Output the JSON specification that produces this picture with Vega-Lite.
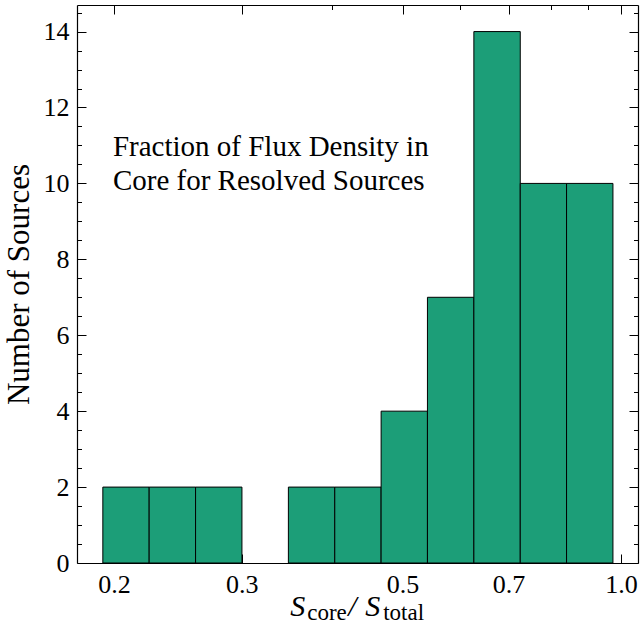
{
  "$schema": "https://vega.github.io/schema/vega-lite/v6.json",
  "width": 561,
  "height": 558,
  "autosize": {"type": "none"},
  "padding": {"left": 77, "top": 5, "right": 3, "bottom": 70},
  "background": "white",
  "config": {
    "view": {"stroke": null},
    "font": "Liberation Serif",
    "axis": {
      "labelFont": "Liberation Serif",
      "labelFontSize": 26,
      "labelColor": "black",
      "titleFont": "Liberation Serif",
      "titleFontSize": 31,
      "titleFontWeight": "normal",
      "titleColor": "black",
      "tickColor": "black",
      "domainColor": "black",
      "domainWidth": 1.2,
      "tickWidth": 1,
      "grid": false
    }
  },
  "datasets": {
    "bins": [
      {"lo": 0.1931, "hi": 0.2237, "count": 2},
      {"lo": 0.2237, "hi": 0.2592, "count": 2},
      {"lo": 0.2592, "hi": 0.3003, "count": 2},
      {"lo": 0.3480, "hi": 0.4032, "count": 2},
      {"lo": 0.4032, "hi": 0.4671, "count": 2},
      {"lo": 0.4671, "hi": 0.5411, "count": 4},
      {"lo": 0.5411, "hi": 0.6270, "count": 7},
      {"lo": 0.6270, "hi": 0.7265, "count": 14},
      {"lo": 0.7265, "hi": 0.8415, "count": 10},
      {"lo": 0.8415, "hi": 0.9750, "count": 10}
    ],
    "one": [{"label": "annotation"}]
  },
  "data": {"name": "bins"},
  "resolve": {"axis": {"x": "independent", "y": "independent"}},
  "layer": [
    {
      "mark": {"type": "rect", "fill": "#1c9e78", "stroke": "black", "strokeWidth": 1},
      "encoding": {
        "x": {"field": "lo", "type": "quantitative",
              "scale": {"type": "log", "domain": [0.1779, 1.0557], "nice": false, "zero": false},
              "axis": {"orient": "bottom", "values": [0.2, 0.3, 0.5, 0.7, 1.0], "format": ".1f", "tickSize": -9, "labelPadding": 17, "title": null}},
        "x2": {"field": "hi"},
        "y": {"field": "count", "type": "quantitative",
              "scale": {"domain": [0, 14.7], "nice": false, "zero": true},
              "axis": {"orient": "left", "values": [0, 2, 4, 6, 8, 10, 12, 14], "tickSize": -9, "labelPadding": 17, "title": "Number of Sources", "titlePadding": 8}},
        "y2": {"datum": 0}
      }
    },
    {
      "mark": {"type": "rect", "opacity": 0},
      "encoding": {
        "x": {"field": "lo", "type": "quantitative",
              "scale": {"type": "log", "domain": [0.1779, 1.0557], "nice": false, "zero": false},
              "axis": {"orient": "bottom", "values": [0.4, 0.6, 0.8, 0.9], "labels": false, "domain": false, "tickSize": -4.5, "title": null}},
        "x2": {"field": "hi"},
        "y": {"field": "count", "type": "quantitative",
              "scale": {"domain": [0, 14.7], "nice": false, "zero": true},
              "axis": {"orient": "left", "values": [0.5, 1, 1.5, 2.5, 3, 3.5, 4.5, 5, 5.5, 6.5, 7, 7.5, 8.5, 9, 9.5, 10.5, 11, 11.5, 12.5, 13, 13.5, 14.5], "labels": false, "domain": false, "tickSize": -4.5, "title": null}},
        "y2": {"datum": 0}
      }
    },
    {
      "mark": {"type": "rect", "opacity": 0},
      "encoding": {
        "x": {"field": "lo", "type": "quantitative",
              "scale": {"type": "log", "domain": [0.1779, 1.0557], "nice": false, "zero": false},
              "axis": {"orient": "top", "values": [0.2, 0.3, 0.5, 0.7, 1.0], "labels": false, "tickSize": -9, "title": null}},
        "x2": {"field": "hi"},
        "y": {"field": "count", "type": "quantitative",
              "scale": {"domain": [0, 14.7], "nice": false, "zero": true},
              "axis": {"orient": "right", "values": [0, 2, 4, 6, 8, 10, 12, 14], "labels": false, "tickSize": -9, "title": null}},
        "y2": {"datum": 0}
      }
    },
    {
      "mark": {"type": "rect", "opacity": 0},
      "encoding": {
        "x": {"field": "lo", "type": "quantitative",
              "scale": {"type": "log", "domain": [0.1779, 1.0557], "nice": false, "zero": false},
              "axis": {"orient": "top", "values": [0.4, 0.6, 0.8, 0.9], "labels": false, "domain": false, "tickSize": -4.5, "title": null}},
        "x2": {"field": "hi"},
        "y": {"field": "count", "type": "quantitative",
              "scale": {"domain": [0, 14.7], "nice": false, "zero": true},
              "axis": {"orient": "right", "values": [0.5, 1, 1.5, 2.5, 3, 3.5, 4.5, 5, 5.5, 6.5, 7, 7.5, 8.5, 9, 9.5, 10.5, 11, 11.5, 12.5, 13, 13.5, 14.5], "labels": false, "domain": false, "tickSize": -4.5, "title": null}},
        "y2": {"datum": 0}
      }
    },
    {
      "data": {"name": "one"},
      "mark": {"type": "text", "text": ["Fraction of Flux Density in", "Core for Resolved Sources"], "font": "Liberation Serif", "fontSize": 29, "lineHeight": 34, "align": "left", "baseline": "alphabetic", "color": "black", "dx": -1},
      "encoding": {
        "x": {"datum": 0.2, "type": "quantitative", "axis": null},
        "y": {"datum": 10.72, "type": "quantitative", "axis": null}
      }
    },
    {
      "data": {"name": "one"},
      "mark": {"type": "text", "text": "S", "font": "Liberation Serif", "fontStyle": "italic", "fontSize": 30, "align": "left", "baseline": "alphabetic", "color": "black", "clip": false, "dx": 0},
      "encoding": {
        "x": {"datum": 0.35, "type": "quantitative", "axis": null},
        "y": {"datum": -1.39, "type": "quantitative", "axis": null}
      }
    },
    {
      "data": {"name": "one"},
      "mark": {"type": "text", "text": "core", "font": "Liberation Serif", "fontSize": 23, "align": "left", "baseline": "alphabetic", "color": "black", "clip": false, "dx": 17, "dy": 4},
      "encoding": {
        "x": {"datum": 0.35, "type": "quantitative", "axis": null},
        "y": {"datum": -1.39, "type": "quantitative", "axis": null}
      }
    },
    {
      "data": {"name": "one"},
      "mark": {"type": "text", "text": "/", "font": "Liberation Serif", "fontStyle": "italic", "fontSize": 30, "align": "left", "baseline": "alphabetic", "color": "black", "clip": false, "dx": 58},
      "encoding": {
        "x": {"datum": 0.35, "type": "quantitative", "axis": null},
        "y": {"datum": -1.39, "type": "quantitative", "axis": null}
      }
    },
    {
      "data": {"name": "one"},
      "mark": {"type": "text", "text": "S", "font": "Liberation Serif", "fontStyle": "italic", "fontSize": 30, "align": "left", "baseline": "alphabetic", "color": "black", "clip": false, "dx": 75},
      "encoding": {
        "x": {"datum": 0.35, "type": "quantitative", "axis": null},
        "y": {"datum": -1.39, "type": "quantitative", "axis": null}
      }
    },
    {
      "data": {"name": "one"},
      "mark": {"type": "text", "text": "total", "font": "Liberation Serif", "fontSize": 23, "align": "left", "baseline": "alphabetic", "color": "black", "clip": false, "dx": 93, "dy": 4},
      "encoding": {
        "x": {"datum": 0.35, "type": "quantitative", "axis": null},
        "y": {"datum": -1.39, "type": "quantitative", "axis": null}
      }
    }
  ]
}
